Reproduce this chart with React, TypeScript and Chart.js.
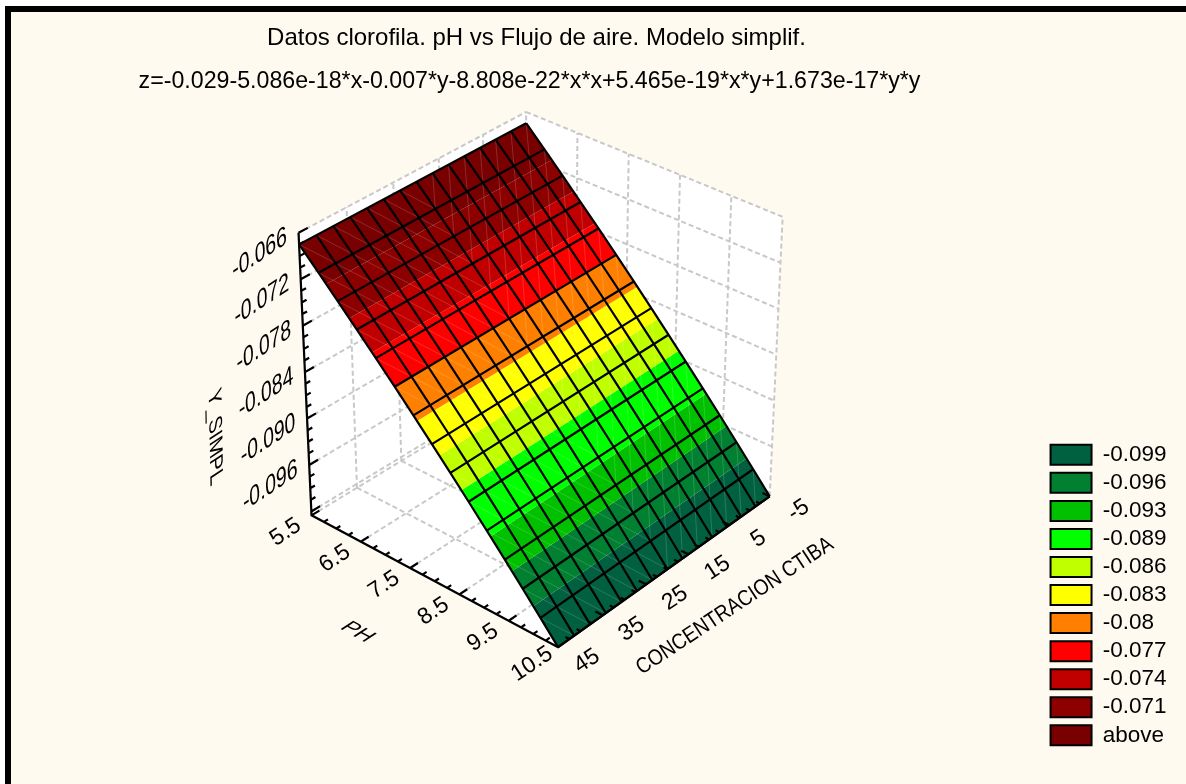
import React, { useEffect, useRef } from "react";
import { Chart, registerables } from "chart.js";

Chart.register(...registerables);

const titleLine = "Datos clorofila. pH vs Flujo de aire. Modelo simplif.";
const subtitleLine = "z=-0.029-5.086e-18*x-0.007*y-8.808e-22*x*x+5.465e-19*x*y+1.673e-17*y*y";
const legendLabels = ["-0.099", "-0.096", "-0.093", "-0.089", "-0.086", "-0.083", "-0.08", "-0.077", "-0.074", "-0.071", "above"];
const bandColors = ["#006040", "#008030", "#00C000", "#00FF00", "#C0FF00", "#FFFF00", "#FF8000", "#FF0000", "#C00000", "#8C0000", "#780000"];
const bandLevels = [-0.099, -0.096, -0.093, -0.089, -0.086, -0.083, -0.08, -0.077, -0.074, -0.071];

// surface mesh (the surface is flat along CONCENTRACION)
const phGrid = [5.5, 5.857, 6.214, 6.571, 6.929, 7.286, 7.643, 8, 8.357, 8.714, 9.071, 9.429, 9.786, 10.143, 10.5];
const concGrid = [45, 41.43, 37.86, 34.29, 30.71, 27.14, 23.57, 20, 16.43, 12.86, 9.29, 5.71, 2.14, -1.43, -5];
const surfaceZ = [-0.0675, -0.07, -0.0725, -0.075, -0.0775, -0.08, -0.0825, -0.085, -0.0875, -0.09, -0.0925, -0.095, -0.0975, -0.1, -0.1025];

// axes
const phTicks = [5.5, 6.5, 7.5, 8.5, 9.5, 10.5];
const phTickLabels = ["5.5", "6.5", "7.5", "8.5", "9.5", "10.5"];
const concTicks = [45, 35, 25, 15, 5, -5];
const concTickLabels = ["45", "35", "25", "15", "5", "-5"];
const zTicks = [-0.066, -0.072, -0.078, -0.084, -0.09, -0.096, -0.102];
const zTickLabels = ["-0.066", "-0.072", "-0.078", "-0.084", "-0.090", "-0.096"];
const zTop = -0.066;
const zBottom = -0.1025;

// camera: where the eight box corners land in the picture
const boxCorners = {
  floorNear: [311, 516], floorFront: [558, 648], floorRight: [770, 497], floorBack: [527, 385],
  topNear: [298, 233], topFront: [559, 358], topRight: [783, 217], topBack: [526, 112],
};
const depthFade = 1.07;

type P = { x: number; y: number };

function project(ph: number, conc: number, z: number): P {
  const u = (ph - 5.5) / 5;
  const raw = (45 - conc) / 50;
  const v = (depthFade * raw) / (1 + (depthFade - 1) * raw);
  const t = (z - zBottom) / (zTop - zBottom);
  const c = boxCorners;
  const mix = (i: number) => {
    const low = (1 - u) * ((1 - v) * c.floorNear[i] + v * c.floorBack[i]) + u * ((1 - v) * c.floorFront[i] + v * c.floorRight[i]);
    const high = (1 - u) * ((1 - v) * c.topNear[i] + v * c.topBack[i]) + u * ((1 - v) * c.topFront[i] + v * c.topRight[i]);
    return (1 - t) * low + t * high;
  };
  return { x: mix(0), y: mix(1) };
}

function phAtLevel(level: number): number {
  for (let i = 0; i < surfaceZ.length - 1; i++) {
    if (surfaceZ[i] >= level && surfaceZ[i + 1] <= level) {
      const f = (surfaceZ[i] - level) / (surfaceZ[i] - surfaceZ[i + 1]);
      return phGrid[i] + f * (phGrid[i + 1] - phGrid[i]);
    }
  }
  return level > surfaceZ[0] ? phGrid[0] : phGrid[phGrid.length - 1];
}

function zOfPh(ph: number): number {
  return surfaceZ[phGrid.indexOf(ph)];
}

const GAP = { x: NaN, y: NaN };

function buildDatasets() {
  const layers: any[] = [];
  const polygon = (pts: P[], color: string) =>
    layers.push({ data: [...pts, pts[0]], showLine: true, fill: "shape", backgroundColor: color, borderWidth: 0, pointRadius: 0, tension: 0 });
  const stroke = (pts: P[], color: string, width: number, dash: number[] = []) =>
    layers.push({ data: pts, showLine: true, fill: false, borderColor: color, borderWidth: width, borderDash: dash, pointRadius: 0, tension: 0, spanGaps: false, borderCapStyle: "butt" });

  const pLo = phTicks[0], pHi = phTicks[5], cLo = concTicks[0], cHi = concTicks[5];
  // white box walls and floor
  polygon([project(pLo, cLo, zTop), project(pLo, cHi, zTop), project(pLo, cHi, zBottom), project(pLo, cLo, zBottom)], "#FFFFFF");
  polygon([project(pLo, cHi, zTop), project(pHi, cHi, zTop), project(pHi, cHi, zBottom), project(pLo, cHi, zBottom)], "#FFFFFF");
  polygon([project(pLo, cLo, zBottom), project(pHi, cLo, zBottom), project(pHi, cHi, zBottom), project(pLo, cHi, zBottom)], "#FFFFFF");

  // dashed grid on the walls and the floor
  const grid: P[] = [];
  const seg = (a: P, b: P) => grid.push(a, b, GAP);
  zTicks.forEach((z) => {
    seg(project(pLo, cLo, z), project(pLo, cHi, z));
    seg(project(pLo, cHi, z), project(pHi, cHi, z));
  });
  concTicks.forEach((c) => {
    seg(project(pLo, c, zBottom), project(pLo, c, zTop));
    seg(project(pLo, c, zBottom), project(pHi, c, zBottom));
  });
  phTicks.forEach((p) => {
    seg(project(p, cHi, zBottom), project(p, cHi, zTop));
    seg(project(p, cLo, zBottom), project(p, cHi, zBottom));
  });
  stroke(grid, "#C8C8C8", 2, [5, 3]);

  // colour bands
  bandColors.forEach((color, i) => {
    const upper = i === bandLevels.length ? surfaceZ[0] : bandLevels[i];
    const lower = i === 0 ? surfaceZ[surfaceZ.length - 1] : bandLevels[i - 1];
    const pA = phAtLevel(upper), pB = phAtLevel(lower);
    polygon([project(pA, cLo, upper), project(pB, cLo, lower), project(pB, cHi, lower), project(pA, cHi, upper)], color);
  });

  // faint facet seams
  const seams: P[] = [];
  for (let i = 0; i < phGrid.length - 1; i++) {
    for (let j = 0; j < concGrid.length - 1; j++) {
      if (j < 7) {
        seams.push(project(phGrid[i], concGrid[j], surfaceZ[i]), project(phGrid[i + 1], concGrid[j + 1], surfaceZ[i + 1]), GAP);
      } else {
        seams.push(project(phGrid[i], concGrid[j + 1], surfaceZ[i]), project(phGrid[i + 1], concGrid[j], surfaceZ[i + 1]), GAP);
      }
    }
  }
  stroke(seams, "rgba(255,255,255,0.16)", 1);

  // black mesh
  const mesh: P[] = [];
  phGrid.forEach((p) => {
    mesh.push(project(p, cLo, zOfPh(p)), project(p, cHi, zOfPh(p)), GAP);
  });
  concGrid.forEach((c) => {
    phGrid.forEach((p) => mesh.push(project(p, c, zOfPh(p))));
    mesh.push(GAP);
  });
  stroke(mesh, "#000000", 2.2);

  // axes and ticks
  const axes: P[] = [];
  axes.push(project(pLo, cLo, zTop), project(pLo, cLo, zBottom), project(pHi, cLo, zBottom), project(pHi, cHi, zBottom), GAP);
  phTicks.forEach((p, i) => {
    axes.push(project(p, cLo, zBottom), project(p, cLo - 1.7, zBottom), GAP);
    if (i < 5) [0.25, 0.5, 0.75].forEach((d) => axes.push(project(p + d, cLo, zBottom), project(p + d, cLo - 0.9, zBottom), GAP));
  });
  concTicks.forEach((c, i) => {
    axes.push(project(pHi, c, zBottom), project(pHi - 0.15, c, zBottom), GAP);
    if (i < 5) [2.5, 5, 7.5].forEach((d) => axes.push(project(pHi, c - d, zBottom), project(pHi - 0.08, c - d, zBottom), GAP));
  });
  zTicks.forEach((z, i) => {
    axes.push(project(pLo, cLo, z), project(pLo, cLo - 1.9, z), GAP);
    if (i < 6) [0.0015, 0.003, 0.0045].forEach((d) => axes.push(project(pLo, cLo, z - d), project(pLo, cLo - 1, z - d), GAP));
  });
  stroke(axes, "#000000", 2.2);

  // Chart.js paints the first dataset last
  return layers.reverse();
}

const FONT = "'Liberation Sans', Arial, sans-serif";

const framePlugin = {
  id: "frame",
  beforeDraw(chart: any) {
    const { ctx, width, height } = chart;
    ctx.save();
    ctx.fillStyle = "#FFFFFF";
    ctx.fillRect(0, 0, width, height);
    ctx.fillStyle = "#FFFAF0";
    ctx.fillRect(11, 12, width - 11, height - 12);
    ctx.fillStyle = "#000000";
    ctx.fillRect(5, 6, width - 5, 6);
    ctx.fillRect(5, 6, 6, height - 6);
    ctx.restore();
  },
};

const placePlugin = {
  id: "place",
  afterLayout(chart: any) {
    if (chart.legend) {
      chart.legend.left = 1045;
      chart.legend.right = 1186;
      chart.legend.top = 438;
      chart.legend.bottom = 784;
    }
    if (chart.titleBlock) {
      chart.titleBlock.left = 0;
      chart.titleBlock.right = 1073;
    }
    const sub = chart.boxes.find((b: any) => b.options && b.options.text === subtitleLine);
    if (sub) {
      sub.left = 0;
      sub.right = 1059;
    }
  },
};

function put(chart: any, text: string, at: P, base: number[], up: number[], size: number) {
  const { ctx, scales } = chart;
  ctx.save();
  ctx.transform(base[0], base[1], -up[0], -up[1], scales.x.getPixelForValue(at.x), scales.y.getPixelForValue(at.y));
  ctx.font = `${size}px ${FONT}`;
  ctx.fillStyle = "#000000";
  ctx.textAlign = "center";
  ctx.textBaseline = "middle";
  ctx.fillText(text, 0, 0);
  ctx.restore();
}

const axisTextPlugin = {
  id: "axisText",
  afterDatasetsDraw(chart: any) {
    const along = [0.834, -0.552];
    const back = [-0.552, -0.834];
    const tallBack = [-0.635, -0.96];
    const pDir = [0.88, 0.47];
    const vertical = [-0.06, -1.18];
    const shift = (p: P, dx: number, dy: number) => ({ x: p.x + dx, y: p.y + dy });
    phTicks.forEach((p, i) => put(chart, phTickLabels[i], shift(project(p, 45, zBottom), -26, 17), along, back, 23));
    concTicks.forEach((c, i) => put(chart, concTickLabels[i], shift(project(10.5, c, zBottom), 29, 14), along, back, 23));
    zTickLabels.forEach((l, i) => put(chart, l, shift(project(5.5, 45, zTicks[i]), -39, 21), along, vertical, 23));
    put(chart, "PH", { x: 357, y: 633 }, pDir, along, 22);
    put(chart, "CONCENTRACION CTIBA", { x: 735, y: 607 }, along, tallBack, 19.2);
    put(chart, "Y_SIMPL", { x: 214, y: 438 }, [0.02, 1], along, 22);
  },
};

export default function App() {
  const ref = useRef<HTMLCanvasElement>(null);
  useEffect(() => {
    const chart: any = new Chart(ref.current as HTMLCanvasElement, {
      type: "scatter",
      data: { datasets: buildDatasets() },
      plugins: [framePlugin, placePlugin, axisTextPlugin],
      options: {
        animation: false,
        responsive: false,
        devicePixelRatio: 1,
        events: [],
        layout: { padding: 0 },
        scales: {
          x: { type: "linear", display: false, min: 0, max: 1186 },
          y: { type: "linear", display: false, reverse: true, min: 0, max: 784 },
        },
        plugins: {
          tooltip: { enabled: false },
          title: {
            display: true,
            text: titleLine,
            color: "#000000",
            font: { family: FONT, size: 24, weight: "normal", lineHeight: 1.2 },
            padding: { top: 23.6, bottom: 0 },
          },
          subtitle: {
            display: true,
            text: subtitleLine,
            color: "#000000",
            font: { family: FONT, size: 23.2, weight: "normal", lineHeight: 1.2 },
            padding: { top: 15.7, bottom: 0 },
          },
          legend: {
            display: true,
            position: "chartArea",
            align: "start",
            labels: {
              boxWidth: 41,
              boxHeight: 20,
              padding: 5.55,
              color: "#000000",
              font: { family: FONT, size: 22.5 },
              generateLabels: () =>
                legendLabels.map((text, i) => ({
                  text,
                  fillStyle: bandColors[i],
                  strokeStyle: "#000000",
                  lineWidth: 2,
                  hidden: false,
                  index: i,
                })),
            },
          },
        },
      },
    } as any);
    // make one data unit equal one projected pixel, whatever the titles took
    const area = chart.chartArea;
    chart.options.scales.x.min = area.left;
    chart.options.scales.x.max = area.right;
    chart.options.scales.y.min = area.top;
    chart.options.scales.y.max = area.bottom;
    chart.update();
    return () => chart.destroy();
  }, []);
  return (
    <div style={{ position: "absolute", left: 0, top: 0, width: 1186, height: 784 }}>
      <canvas ref={ref} width={1186} height={784} style={{ display: "block" }} />
    </div>
  );
}
